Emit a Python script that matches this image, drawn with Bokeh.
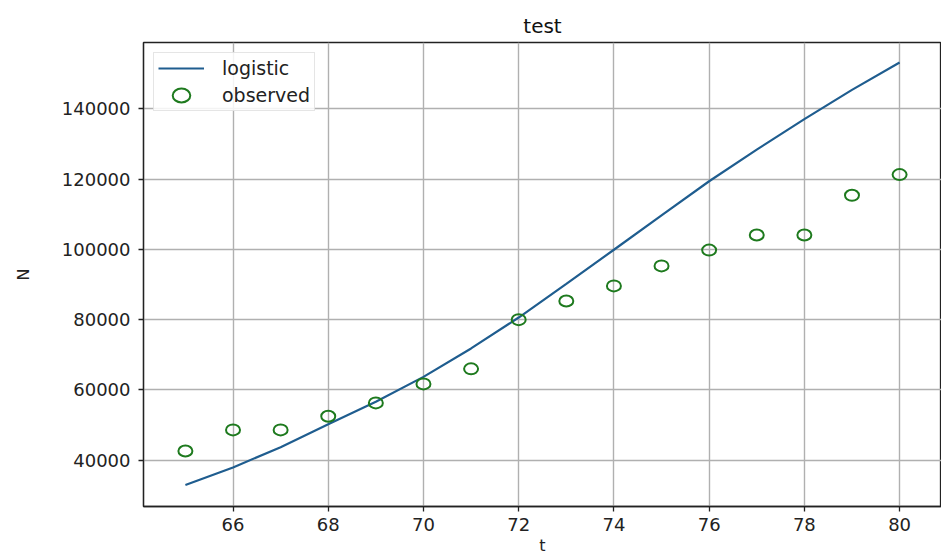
from bokeh.plotting import figure
from bokeh.models import Range1d, FixedTicker, Legend, LegendItem, BasicTickFormatter
from bokeh.embed import file_html
from bokeh.resources import INLINE

# data
t = [65, 66, 67, 68, 69, 70, 71, 72, 73, 74, 75, 76, 77, 78, 79, 80]
observed = [42600, 48600, 48600, 52500, 56300, 61700, 66000, 80000,
            85300, 89600, 95300, 99800, 104100, 104100, 115400, 121300]
logistic = [32900, 37900, 43700, 50200, 56600, 63700, 71800, 80600,
            90200, 99900, 109700, 119400, 128400, 137100, 145400, 153200]
x_ticks = [66, 68, 70, 72, 74, 76, 78, 80]
y_ticks = [40000, 60000, 80000, 100000, 120000, 140000]

FONT = "DejaVu Sans"

p = figure(width=941, height=557, output_backend="svg", toolbar_location=None,
           x_range=Range1d(64.12, 80.88), y_range=Range1d(26800, 158900),
           min_border_left=143, min_border_right=0, min_border_top=42,
           min_border_bottom=49, title="test")

p.title.text_font = FONT
p.title.text_font_size = "20px"
p.title.text_font_style = "normal"
p.title.align = "center"
p.title.text_color = "#111111"

p.outline_line_color = "#222222"
p.outline_line_width = 1.3

for ax in (p.xaxis[0], p.yaxis[0]):
    ax.major_label_text_font = FONT
    ax.major_label_text_font_size = "18px"
    ax.major_label_text_color = "#222222"
    ax.axis_label_text_font = FONT
    ax.axis_label_text_font_size = "16px"
    ax.axis_label_text_font_style = "normal"
    ax.axis_label_text_color = "#222222"
    ax.axis_line_color = "#222222"
    ax.axis_line_width = 1.3
    ax.major_tick_line_color = "#222222"
    ax.major_tick_line_width = 1.3
    ax.major_tick_out = 5
    ax.major_tick_in = 0
    ax.minor_tick_line_color = None

p.xaxis.ticker = FixedTicker(ticks=x_ticks)
p.yaxis.ticker = FixedTicker(ticks=y_ticks)
p.yaxis.formatter = BasicTickFormatter(use_scientific=False)
p.xaxis.axis_label = "t"
p.yaxis.axis_label = "N"
p.xaxis.axis_label_standoff = 2
p.yaxis.axis_label_standoff = 26
p.xaxis.major_label_standoff = 6
p.yaxis.major_label_standoff = 8

p.xgrid.grid_line_color = "#b0b0b0"
p.ygrid.grid_line_color = "#b0b0b0"
p.xgrid.grid_line_width = 1.4
p.ygrid.grid_line_width = 1.4

line = p.line(t, logistic, line_color="#1f5d8f", line_width=2.2)
pts = p.ellipse(x=t, y=observed, width=14, height=11,
                width_units="screen", height_units="screen",
                fill_color=None, line_color="#1e7a1e", line_width=2)

legend = Legend(items=[LegendItem(label="logistic", renderers=[line]),
                       LegendItem(label="observed", renderers=[pts])],
                location="top_left")
legend.label_text_font = FONT
legend.label_text_font_size = "19px"
legend.label_text_color = "#222222"
legend.glyph_width = 46
legend.glyph_height = 22
legend.label_standoff = 18
legend.label_height = 22
legend.spacing = 5
legend.padding = 4
legend.margin = 10
legend.border_line_color = "#cccccc"
legend.border_line_width = 1.2
legend.background_fill_alpha = 0.85
p.add_layout(legend, "center")

open("out.html", "w").write(file_html(p, INLINE))
